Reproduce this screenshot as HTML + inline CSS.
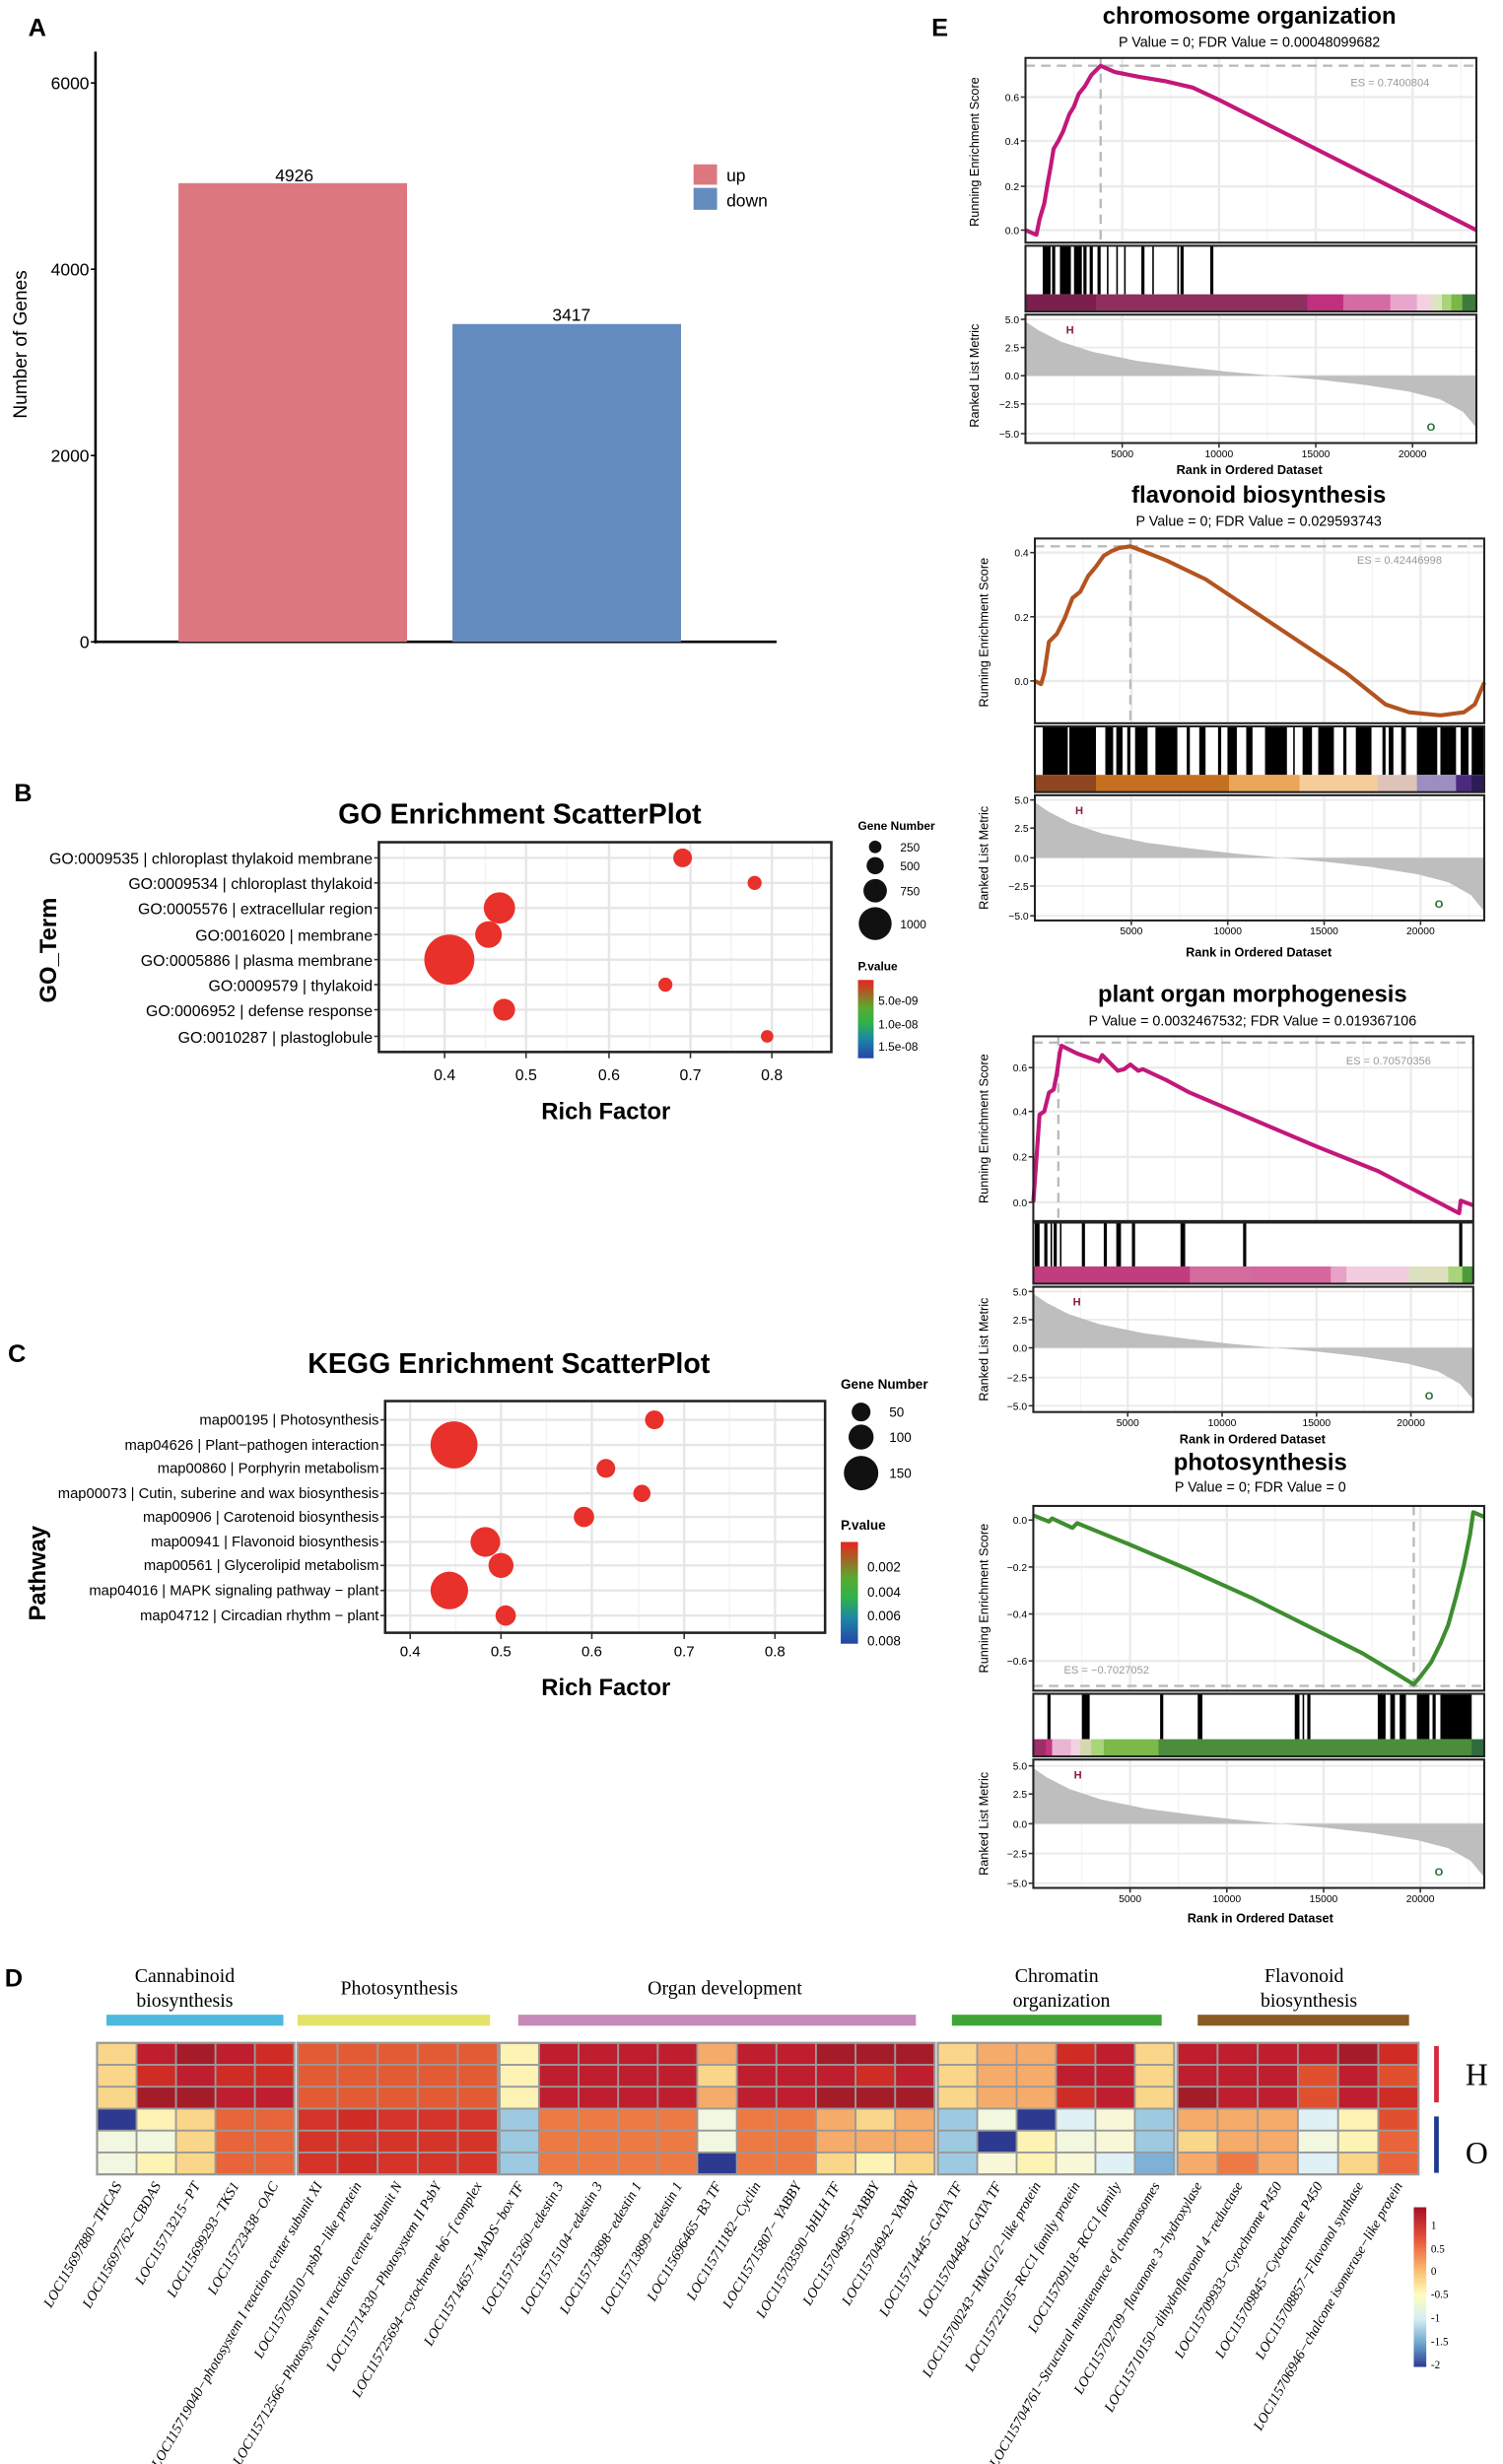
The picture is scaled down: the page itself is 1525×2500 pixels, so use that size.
<!DOCTYPE html>
<html><head><meta charset="utf-8"><style>
html,body{margin:0;padding:0;background:#fff}
svg{display:block}
.s{font-family:"Liberation Sans",sans-serif}
.t{font-family:"Liberation Serif",serif}
</style></head><body>
<svg id="sv" width="1525" height="2500" viewBox="0 0 960 1574" preserveAspectRatio="none" xmlns="http://www.w3.org/2000/svg">
<rect width="960" height="1574" fill="#fff"/>
<g class="s">
<!-- Panel A -->
<text x="18" y="23" font-size="16" font-weight="bold">A</text>
<line x1="61" y1="33" x2="61" y2="411" stroke="#000" stroke-width="1.6"/>
<line x1="60" y1="410" x2="496" y2="410" stroke="#000" stroke-width="1.6"/>
<g font-size="11" text-anchor="end">
<text x="57" y="57">6000</text><text x="57" y="176">4000</text><text x="57" y="295">2000</text><text x="57" y="414">0</text></g>
<g stroke="#000"><line x1="58" y1="53" x2="61" y2="53"/><line x1="58" y1="172" x2="61" y2="172"/><line x1="58" y1="291" x2="61" y2="291"/><line x1="58" y1="410" x2="61" y2="410"/></g>
<rect x="114" y="117" width="146" height="293" fill="#DC7780"/>
<rect x="289" y="207" width="146" height="203" fill="#648BBE"/>
<text x="188" y="116" font-size="11" text-anchor="middle">4926</text>
<text x="365" y="205" font-size="11" text-anchor="middle">3417</text>
<rect x="443" y="105" width="15" height="13" fill="#DC7780"/><rect x="443" y="120" width="15" height="14" fill="#648BBE"/>
<text x="464" y="116" font-size="11">up</text><text x="464" y="132" font-size="11">down</text>
<text transform="translate(17,220) rotate(-90)" font-size="12" text-anchor="middle">Number of Genes</text>

<!-- Panel B -->
<text x="9" y="512" font-size="16" font-weight="bold">B</text>
<text x="332" y="526" font-size="18" font-weight="bold" text-anchor="middle">GO Enrichment ScatterPlot</text>
<g id="gridB"></g>
<rect x="242" y="538" width="289" height="134" fill="none" stroke="#222" stroke-width="1.6"/>
<g font-size="10" text-anchor="end">
<text x="238" y="552">GO:0009535 | chloroplast thylakoid membrane</text>
<text x="238" y="568">GO:0009534 | chloroplast thylakoid</text>
<text x="238" y="584">GO:0005576 | extracellular region</text>
<text x="238" y="601">GO:0016020 | membrane</text>
<text x="238" y="617">GO:0005886 | plasma membrane</text>
<text x="238" y="633">GO:0009579 | thylakoid</text>
<text x="238" y="649">GO:0006952 | defense response</text>
<text x="238" y="666">GO:0010287 | plastoglobule</text>
</g>
<g font-size="10" text-anchor="middle"><text x="284" y="690">0.4</text><text x="336" y="690">0.5</text><text x="389" y="690">0.6</text><text x="441" y="690">0.7</text><text x="493" y="690">0.8</text></g>
<g fill="#E8312A"><circle cx="436" cy="548" r="6"/><circle cx="482" cy="564" r="4.5"/><circle cx="319" cy="580" r="10"/><circle cx="312" cy="597" r="8.5"/><circle cx="287" cy="613" r="16"/><circle cx="425" cy="629" r="4.5"/><circle cx="322" cy="645" r="7"/><circle cx="490" cy="662" r="4"/></g>
<text x="387" y="715" font-size="15" font-weight="bold" text-anchor="middle">Rich Factor</text>
<text transform="translate(36,607) rotate(-90)" font-size="15" font-weight="bold" text-anchor="middle">GO_Term</text>
<text x="548" y="530" font-size="7.5" font-weight="bold">Gene Number</text>
<g fill="#111"><circle cx="559" cy="541" r="4"/><circle cx="559" cy="553" r="5.5"/><circle cx="559" cy="569" r="7.5"/><circle cx="559" cy="590" r="10.5"/></g>
<g font-size="7.5"><text x="575" y="544">250</text><text x="575" y="556">500</text><text x="575" y="572">750</text><text x="575" y="593">1000</text></g>
<text x="548" y="620" font-size="7.5" font-weight="bold">P.value</text>
<defs><linearGradient id="pv" x1="0" y1="0" x2="0" y2="1"><stop offset="0" stop-color="#E8231F"/><stop offset="0.35" stop-color="#5AAA2E"/><stop offset="0.55" stop-color="#2FB24A"/><stop offset="0.75" stop-color="#1E86A6"/><stop offset="1" stop-color="#2444A8"/></linearGradient></defs>
<rect x="548" y="626" width="10" height="50" fill="url(#pv)"/>
<g font-size="7.5"><text x="561" y="642">5.0e-09</text><text x="561" y="657">1.0e-08</text><text x="561" y="671">1.5e-08</text></g>

<!-- Panel C -->
<text x="5" y="870" font-size="16" font-weight="bold">C</text>
<text x="325" y="877" font-size="18" font-weight="bold" text-anchor="middle">KEGG Enrichment ScatterPlot</text>
<g id="gridC"></g>
<rect x="246" y="895" width="281" height="148" fill="none" stroke="#222" stroke-width="1.6"/>
<g font-size="9.3" text-anchor="end">
<text x="242" y="910">map00195 | Photosynthesis</text>
<text x="242" y="926">map04626 | Plant−pathogen interaction</text>
<text x="242" y="941">map00860 | Porphyrin metabolism</text>
<text x="242" y="957">map00073 | Cutin, suberine and wax biosynthesis</text>
<text x="242" y="972">map00906 | Carotenoid biosynthesis</text>
<text x="242" y="988">map00941 | Flavonoid biosynthesis</text>
<text x="242" y="1003">map00561 | Glycerolipid metabolism</text>
<text x="242" y="1019">map04016 | MAPK signaling pathway − plant</text>
<text x="242" y="1035">map04712 | Circadian rhythm − plant</text>
</g>
<g font-size="9.5" text-anchor="middle"><text x="262" y="1058">0.4</text><text x="320" y="1058">0.5</text><text x="378" y="1058">0.6</text><text x="437" y="1058">0.7</text><text x="495" y="1058">0.8</text></g>
<g fill="#E8312A"><circle cx="418" cy="907" r="6"/><circle cx="290" cy="923" r="15"/><circle cx="387" cy="938" r="6"/><circle cx="410" cy="954" r="5.5"/><circle cx="373" cy="969" r="6.5"/><circle cx="310" cy="985" r="9.5"/><circle cx="320" cy="1000" r="8"/><circle cx="287" cy="1016" r="12"/><circle cx="323" cy="1032" r="6.5"/></g>
<text x="387" y="1083" font-size="15" font-weight="bold" text-anchor="middle">Rich Factor</text>
<text transform="translate(29,1005) rotate(-90)" font-size="15" font-weight="bold" text-anchor="middle">Pathway</text>
<text x="537" y="887" font-size="8.5" font-weight="bold">Gene Number</text>
<g fill="#111"><circle cx="550" cy="902" r="6"/><circle cx="550" cy="918" r="8"/><circle cx="550" cy="941" r="11"/></g>
<g font-size="8.5"><text x="568" y="905">50</text><text x="568" y="921">100</text><text x="568" y="944">150</text></g>
<text x="537" y="977" font-size="8.5" font-weight="bold">P.value</text>
<rect x="537" y="985" width="11" height="65" fill="url(#pv)"/>
<g font-size="8.5"><text x="554" y="1004">0.002</text><text x="554" y="1020">0.004</text><text x="554" y="1035">0.006</text><text x="554" y="1051">0.008</text></g>

<!-- Panel E -->
<text x="595" y="23" font-size="16" font-weight="bold">E</text>
<g id="gsea"></g>
<g text-anchor="middle">
<text x="798" y="15" font-size="15" font-weight="bold">chromosome organization</text>
<text x="798" y="30" font-size="9">P Value = 0; FDR Value = 0.00048099682</text>
<text x="798" y="303" font-size="8" font-weight="bold">Rank in Ordered Dataset</text>
<text x="804" y="321" font-size="15" font-weight="bold">flavonoid biosynthesis</text>
<text x="804" y="336" font-size="9">P Value = 0; FDR Value = 0.029593743</text>
<text x="804" y="611" font-size="8" font-weight="bold">Rank in Ordered Dataset</text>
<text x="800" y="640" font-size="15" font-weight="bold">plant organ morphogenesis</text>
<text x="800" y="655" font-size="9">P Value = 0.0032467532; FDR Value = 0.019367106</text>
<text x="800" y="922" font-size="8" font-weight="bold">Rank in Ordered Dataset</text>
<text x="805" y="939" font-size="15" font-weight="bold">photosynthesis</text>
<text x="805" y="953" font-size="9">P Value = 0; FDR Value = 0</text>
<text x="805" y="1228" font-size="8" font-weight="bold">Rank in Ordered Dataset</text>
</g>
<g font-size="8" text-anchor="middle">
<text transform="translate(625,97) rotate(-90)">Running Enrichment Score</text>
<text transform="translate(625,240) rotate(-90)">Ranked List Metric</text>
<text transform="translate(631,404) rotate(-90)">Running Enrichment Score</text>
<text transform="translate(631,548) rotate(-90)">Ranked List Metric</text>
<text transform="translate(631,721) rotate(-90)">Running Enrichment Score</text>
<text transform="translate(631,862) rotate(-90)">Ranked List Metric</text>
<text transform="translate(631,1021) rotate(-90)">Running Enrichment Score</text>
<text transform="translate(631,1165) rotate(-90)">Ranked List Metric</text>
</g>
<g font-size="7" fill="#999" text-anchor="end">
<text x="913" y="55">ES = 0.7400804</text>
<text x="921" y="360">ES = 0.42446998</text>
<text x="914" y="680">ES = 0.70570356</text>
<text x="734" y="1069">ES = −0.7027052</text>
</g>

<!-- Panel D -->
<text x="3" y="1269" font-size="16" font-weight="bold">D</text>
<g class="t" font-size="12.5" text-anchor="middle">
<text x="118" y="1266">Cannabinoid</text><text x="118" y="1282">biosynthesis</text>
<text x="255" y="1274">Photosynthesis</text>
<text x="463" y="1274">Organ development</text>
<text x="675" y="1266">Chromatin</text><text x="678" y="1282">organization</text>
<text x="833" y="1266">Flavonoid</text><text x="836" y="1282">biosynthesis</text>
</g>
<rect x="68" y="1287" width="113" height="7" fill="#4DB8E0"/>
<rect x="190" y="1287" width="123" height="7" fill="#E3E36A"/>
<rect x="331" y="1287" width="254" height="7" fill="#C58AB8"/>
<rect x="608" y="1287" width="134" height="7" fill="#3FA535"/>
<rect x="765" y="1287" width="135" height="7" fill="#8B5A22"/>
<g id="heat"></g>
<rect x="916" y="1307" width="3" height="36" fill="#D7263D"/>
<rect x="916" y="1352" width="3" height="36" fill="#1E3A8E"/>
<text class="t" x="936" y="1332" font-size="20">H</text>
<text class="t" x="936" y="1382" font-size="20">O</text>
<defs><linearGradient id="hm" x1="0" y1="0" x2="0" y2="1"><stop offset="0" stop-color="#A50F26"/><stop offset="0.2" stop-color="#E8543A"/><stop offset="0.4" stop-color="#FBBF6E"/><stop offset="0.55" stop-color="#FEFEC0"/><stop offset="0.7" stop-color="#D6EEF3"/><stop offset="0.85" stop-color="#6EA7D0"/><stop offset="1" stop-color="#2E3B94"/></linearGradient></defs>
<rect x="903" y="1410" width="8" height="102" fill="url(#hm)"/>
<g class="t" font-size="7"><text x="914" y="1424">1</text><text x="914" y="1439">0.5</text><text x="914" y="1453">0</text><text x="914" y="1468">-0.5</text><text x="914" y="1483">-1</text><text x="914" y="1498">-1.5</text><text x="914" y="1513">-2</text></g>
<g class="t" font-size="9" font-style="italic" text-anchor="end" id="lbl">
<text transform="translate(78,1396) rotate(-60)">LOC115697880−THCAS</text>
<text transform="translate(103,1396) rotate(-60)">LOC115697762−CBDAS</text>
<text transform="translate(128,1396) rotate(-60)">LOC115713215−PT</text>
<text transform="translate(153,1396) rotate(-60)">LOC115699293−TKS1</text>
<text transform="translate(178,1396) rotate(-60)">LOC115723438−OAC</text>
<text transform="translate(206,1396) rotate(-60)">LOC115719040−photosystem I reaction center subunit XI</text>
<text transform="translate(231,1396) rotate(-60)">LOC115705010−psbP−like protein</text>
<text transform="translate(257,1396) rotate(-60)">LOC115712566−Photosystem I reaction centre subunit N</text>
<text transform="translate(282,1396) rotate(-60)">LOC115714330−Photosystem II PsbY</text>
<text transform="translate(308,1396) rotate(-60)">LOC115725694−cytochrome b6−f complex</text>
<text transform="translate(335,1396) rotate(-60)">LOC115714657−MADS−box TF</text>
<text transform="translate(360,1396) rotate(-60)">LOC115715260−edestin 3</text>
<text transform="translate(385,1396) rotate(-60)">LOC115715104−edestin 3</text>
<text transform="translate(410,1396) rotate(-60)">LOC115713898−edestin 1</text>
<text transform="translate(436,1396) rotate(-60)">LOC115713899−edestin 1</text>
<text transform="translate(461,1396) rotate(-60)">LOC115696465−B3 TF</text>
<text transform="translate(486,1396) rotate(-60)">LOC115711182−Cyclin</text>
<text transform="translate(512,1396) rotate(-60)">LOC115715807− YABBY</text>
<text transform="translate(537,1396) rotate(-60)">LOC115703590−bHLH TF</text>
<text transform="translate(562,1396) rotate(-60)">LOC115704995−YABBY</text>
<text transform="translate(587,1396) rotate(-60)">LOC115704942−YABBY</text>
<text transform="translate(615,1396) rotate(-60)">LOC115714445−GATA TF</text>
<text transform="translate(640,1396) rotate(-60)">LOC115704484−GATA TF</text>
<text transform="translate(665,1396) rotate(-60)">LOC115700243−HMG1/2−like protein</text>
<text transform="translate(690,1396) rotate(-60)">LOC115722105−RCC1 family protein</text>
<text transform="translate(716,1396) rotate(-60)">LOC115709118−RCC1 family</text>
<text transform="translate(741,1396) rotate(-60)">LOC115704761−Structural maintenance of chromosomes</text>
<text transform="translate(768,1396) rotate(-60)">LOC115702709−flavanone 3−hydroxylase</text>
<text transform="translate(794,1396) rotate(-60)">LOC115710150−dihydroflavonol 4−reductase</text>
<text transform="translate(819,1396) rotate(-60)">LOC115709933−Cytochrome P450</text>
<text transform="translate(845,1396) rotate(-60)">LOC115709845−Cytochrome P450</text>
<text transform="translate(871,1396) rotate(-60)">LOC115708857−Flavonol synthase</text>
<text transform="translate(896,1396) rotate(-60)">LOC115706946−chalcone isomerase−like protein</text>
</g>
</g>
</svg>
<script>
var NS="http://www.w3.org/2000/svg";
function el(p,t,a){var e=document.createElementNS(NS,t);for(var k in a)e.setAttribute(k,a[k]);p.appendChild(e);return e;}
(function(){var g=document.getElementById('gridB');
el(g,'rect',{x:242,y:538,width:289,height:134,fill:'#fff'});
[284,336,389,441,493].forEach(function(x){el(g,'line',{x1:x,y1:538,x2:x,y2:672,stroke:'#e6e6e6','stroke-width':1.5});el(g,'line',{x1:x,y1:672,x2:x,y2:676,stroke:'#333'});});
[258,310,362,415,467,519].forEach(function(x){el(g,'line',{x1:x,y1:538,x2:x,y2:672,stroke:'#f2f2f2','stroke-width':0.8});});
[548,564,580,597,613,629,645,662].forEach(function(y){el(g,'line',{x1:242,y1:y,x2:531,y2:y,stroke:'#e6e6e6','stroke-width':1.5});el(g,'line',{x1:239,y1:y,x2:242,y2:y,stroke:'#333'});});
var c=document.getElementById('gridC');
el(c,'rect',{x:246,y:895,width:281,height:148,fill:'#fff'});
[262,320,378,437,495].forEach(function(x){el(c,'line',{x1:x,y1:895,x2:x,y2:1043,stroke:'#e6e6e6','stroke-width':1.5});el(c,'line',{x1:x,y1:1043,x2:x,y2:1047,stroke:'#333'});});
[291,349,408,466].forEach(function(x){el(c,'line',{x1:x,y1:895,x2:x,y2:1043,stroke:'#f2f2f2','stroke-width':0.8});});
[907,923,938,954,969,985,1000,1016,1032].forEach(function(y){el(c,'line',{x1:246,y1:y,x2:527,y2:y,stroke:'#e6e6e6','stroke-width':1.5});el(c,'line',{x1:243,y1:y,x2:246,y2:y,stroke:'#333'});});
})();
(function(){var G=document.getElementById('gsea');
function plot(o){
 var x0=o.x0,x1=o.x1,sc=(x1-x0)/23300;
 el(G,'rect',{x:x0,y:o.t0,width:x1-x0,height:o.t1-o.t0,fill:'#fff'});
 var ticks=[5000,10000,15000,20000];
 ticks.forEach(function(r){var x=x0+r*sc;[[o.t0,o.t1],[o.b0,o.b1]].forEach(function(p){el(G,'line',{x1:x,y1:p[0],x2:x,y2:p[1],stroke:'#ebebeb','stroke-width':1.5});});});
 [2500,7500,12500,17500,22500].forEach(function(r){var x=x0+r*sc;[[o.t0,o.t1],[o.b0,o.b1]].forEach(function(p){el(G,'line',{x1:x,y1:p[0],x2:x,y2:p[1],stroke:'#f4f4f4','stroke-width':0.8});});});
 o.yt.forEach(function(t){el(G,'line',{x1:x0,y1:t[1],x2:x1,y2:t[1],stroke:'#ebebeb','stroke-width':1.5});el(G,'line',{x1:x0-3,y1:t[1],x2:x0,y2:t[1],stroke:'#333'});var tx=el(G,'text',{x:x0-4,y:t[1]+2.5,'font-size':6.5,'text-anchor':'end'});tx.textContent=t[0];});
 el(G,'line',{x1:x0,y1:o.dh,x2:x1,y2:o.dh,stroke:'#bbb','stroke-width':1.5,'stroke-dasharray':'6,4'});
 el(G,'line',{x1:o.dv,y1:o.t0,x2:o.dv,y2:o.t1,stroke:'#bbb','stroke-width':1.5,'stroke-dasharray':'6,4'});
 el(G,'polyline',{points:o.pts,fill:'none',stroke:o.col,'stroke-width':2.6,'stroke-linejoin':'round'});
 el(G,'rect',{x:x0,y:o.t0,width:x1-x0,height:o.t1-o.t0,fill:'none',stroke:'#222','stroke-width':1.3});
 el(G,'rect',{x:x0,y:o.m0,width:x1-x0,height:o.m1-o.m0,fill:'#fff'});
 var cs=o.m1-11;
 o.bars.forEach(function(b){el(G,'rect',{x:b[0],y:o.m0,width:Math.max(b[1]-b[0],1),height:cs-o.m0,fill:'#000'});});
 o.strip.forEach(function(s){el(G,'rect',{x:s[0],y:cs,width:s[1]-s[0]+0.3,height:o.m1-cs,fill:s[2]});});
 el(G,'rect',{x:x0,y:o.m0,width:x1-x0,height:o.m1-o.m0,fill:'none',stroke:'#222','stroke-width':1.3});
 var yz=o.yb[2][1],u=(o.yb[0][1]-yz)/5;
 o.yb.forEach(function(t){el(G,'line',{x1:x0,y1:t[1],x2:x1,y2:t[1],stroke:'#ebebeb','stroke-width':1.2});el(G,'line',{x1:x0-3,y1:t[1],x2:x0,y2:t[1],stroke:'#333'});var tx=el(G,'text',{x:x0-4,y:t[1]+2.5,'font-size':6.5,'text-anchor':'end'});tx.textContent=t[0];});
 var prof=[[0,4.8],[0.03,4.0],[0.08,3.0],[0.15,2.1],[0.25,1.3],[0.35,0.8],[0.45,0.35],[0.55,0],[0.65,-0.35],[0.75,-0.8],[0.85,-1.4],[0.92,-2.1],[0.97,-3.2],[1,-4.6]];
 var d='M'+x0+','+yz;prof.forEach(function(p){d+=' L'+(x0+p[0]*(x1-x0))+','+(yz+p[1]*u);});d+=' L'+x1+','+yz+' Z';
 el(G,'path',{d:d,fill:'#BEBEBE'});
 var h=el(G,'text',{x:x0+(x1-x0)*0.09,y:o.b0+12,'font-size':7,'font-weight':'bold',fill:'#8B1A4A'});h.textContent='H';
 var oo=el(G,'text',{x:x0+(x1-x0)*0.89,y:o.b1-8,'font-size':7,'font-weight':'bold',fill:'#1E6B2A'});oo.textContent='O';
 el(G,'rect',{x:x0,y:o.b0,width:x1-x0,height:o.b1-o.b0,fill:'none',stroke:'#222','stroke-width':1.3});
 ticks.forEach(function(r){var x=x0+r*sc;el(G,'line',{x1:x,y1:o.b1,x2:x,y2:o.b1+3,stroke:'#333'});var tx=el(G,'text',{x:x,y:o.b1+9,'font-size':6.5,'text-anchor':'middle'});tx.textContent=r;});
}
plot({x0:655,x1:943,t0:37,t1:155,m0:157,m1:199,b0:201,b1:283,col:'#C2187A',dh:42,dv:703,
 yt:[['0.0',147],['0.2',119],['0.4',90],['0.6',62]],yb:[['5.0',204],['2.5',222],['0.0',240],['−2.5',258],['−5.0',277]],
 pts:'655,147 662,150 664,140 667,130 669,118 671,107 673,95 676,90 679,84 683,73 686,68 689,60 693,55 697,48 700,45 703,42 712,46 727,49 745,52 762,56 779,64 943,147',
 bars:[[666,671],[672,674],[677,684],[686,691],[692,694],[696,698],[701,703],[707,708],[713,714],[718,719],[729,731],[736,737],[752,753],[754,756],[773,775]],
 strip:[[655,700,'#7C1F4E'],[700,835,'#8E2F5E'],[835,858,'#C0307F'],[858,888,'#D56BA5'],[888,905,'#E8A6CC'],[905,914,'#F4D0E3'],[914,921,'#DDE5C0'],[921,927,'#A8D47A'],[927,934,'#7AB648'],[934,943,'#3E7A3C']]});
plot({x0:661,x1:948,t0:344,t1:462,m0:464,m1:506,b0:508,b1:588,col:'#B35420',dh:349,dv:722,
 yt:[['0.0',435],['0.2',394],['0.4',353]],yb:[['5.0',511],['2.5',529],['0.0',548],['−2.5',566],['−5.0',585]],
 pts:'661,435 665,437 667,430 670,410 675,405 680,395 685,382 690,378 695,368 700,362 705,355 710,352 715,350 722,349 730,352 745,358 770,370 800,390 830,410 860,430 885,450 900,455 920,457 935,455 942,450 948,436',
 bars:[[666,682],[683,700],[706,711],[713,717],[720,722],[725,733],[738,752],[758,760],[766,770],[778,780],[784,790],[796,800],[808,822],[826,827],[832,838],[842,852],[858,860],[866,876],[883,885],[887,890],[895,898],[905,918],[920,930],[933,938],[940,948]],
 strip:[[661,700,'#8E4620'],[700,785,'#C5701F'],[785,830,'#E9A55A'],[830,880,'#F6CD9A'],[880,905,'#DDC3B8'],[905,930,'#9B8FC2'],[930,940,'#4B2A7D'],[940,948,'#2D1B55']]});
plot({x0:660,x1:941,t0:662,t1:780,m0:781,m1:820,b0:822,b1:902,col:'#C2187A',dh:666,dv:676,
 yt:[['0.0',768],['0.2',739],['0.4',710],['0.6',682]],yb:[['5.0',825],['2.5',843],['0.0',861],['−2.5',880],['−5.0',898]],
 pts:'660,768 662,740 664,712 667,710 670,698 673,696 675,686 677,672 678,668 688,673 702,678 704,674 714,684 718,683 722,680 727,684 730,683 745,690 760,698 800,715 840,732 880,748 932,775 933,767 941,770',
 bars:[[661,664],[667,669],[671,672],[673,675],[677,678],[691,693],[705,707],[713,716],[723,725],[754,757],[794,796],[932,934]],
 strip:[[660,760,'#C13D7F'],[760,800,'#D36B9E'],[800,850,'#D6679E'],[850,860,'#E7A2C6'],[860,900,'#F2CCDF'],[900,925,'#DCE0BE'],[925,934,'#A8D47A'],[934,941,'#4F9A3C']]});
plot({x0:660,x1:948,t0:962,t1:1080,m0:1082,m1:1122,b0:1124,b1:1206,col:'#3E8E2F',dh:1077,dv:903,
 yt:[['0.0',971],['−0.2',1001],['−0.4',1031],['−0.6',1061]],yb:[['5.0',1128],['2.5',1146],['0.0',1165],['−2.5',1184],['−5.0',1203]],
 pts:'660,968 670,972 672,970 685,976 688,973 720,986 760,1003 800,1021 840,1041 870,1056 890,1068 903,1076 908,1070 914,1062 920,1050 925,1038 930,1020 935,1000 939,980 941,966 948,969',
 bars:[[669,671],[691,696],[741,743],[765,768],[827,830],[832,833],[835,837],[880,885],[888,891],[894,898],[905,913],[915,917],[920,940]],
 strip:[[660,668,'#9E2E66'],[668,672,'#C23680'],[672,684,'#E8B5D2'],[684,690,'#F4D0E3'],[690,697,'#D4D8B0'],[697,705,'#A8D47A'],[705,740,'#7CB84A'],[740,940,'#4C8C3C'],[940,948,'#2F6B3C']]});
})();
(function(){var H=document.getElementById('heat');
var C={R3:'#A51C29',R2:'#BE1E2D',R1:'#CF2C25',O2:'#E0502F',O:'#E8643A',O1:'#ED7A45',LO:'#F5AB6A',Y:'#FAD68A',PY:'#FCF3B5',W:'#F2F7E0',PW:'#F8F8D8',LB:'#DFF1F5',B1:'#9ECAE1',B:'#2D3A8F',MB:'#7FB1D6',PO:'#E35B35',PR:'#D4342A'};
var groups=[
 {x:62,w:126,rows:[['Y','R2','R3','R2','R1'],['Y','R1','R2','R1','R1'],['Y','R3','R3','R2','R2'],['B','PY','Y','O','O'],['W','W','Y','O','O'],['W','PY','Y','O','O']]},
 {x:190,w:128,rows:[['PO','PO','PO','PO','PO'],['PO','PO','PO','PO','PO'],['PO','PO','PO','PO','PO'],['PR','R1','PR','PR','PR'],['PR','PR','PR','PR','PR'],['PR','R1','PR','PR','PR']]},
 {x:319,w:278,rows:[['PY','R2','R2','R2','R2','LO','R2','R2','R3','R3','R3'],['PY','R2','R2','R2','R2','Y','R2','R2','R2','R1','R2'],['PY','R2','R2','R2','R2','LO','R2','R2','R3','R3','R3'],['B1','O1','O1','O1','O1','W','O1','O1','LO','Y','LO'],['B1','O1','O1','O1','O1','W','O1','O1','LO','LO','LO'],['B1','O1','O1','O1','O1','B','O1','O1','Y','PY','Y']]},
 {x:599,w:151,rows:[['Y','LO','LO','R1','R2','Y'],['Y','LO','LO','R2','R2','Y'],['Y','LO','LO','R1','R2','Y'],['B1','W','B','LB','PW','B1'],['B1','B','PY','W','PW','B1'],['B1','PW','PY','PW','LB','MB']]},
 {x:752,w:154,rows:[['R2','R2','R2','R2','R3','R1'],['R2','R2','R2','O2','R2','O2'],['R3','R2','R2','O2','R2','R1'],['LO','LO','LO','LB','PY','O2'],['Y','LO','LO','W','PY','O'],['LO','O1','LO','LB','Y','O']]}];
groups.forEach(function(g){var n=g.rows[0].length,cw=g.w/n,rh=84/6;
 el(H,'rect',{x:g.x,y:1305,width:g.w,height:84,fill:'#999'});
 g.rows.forEach(function(r,i){r.forEach(function(c,j){el(H,'rect',{x:g.x+j*cw+0.6,y:1305+i*rh+0.6,width:cw-1.2,height:rh-1.2,fill:C[c]});});});
 el(H,'rect',{x:g.x,y:1305,width:g.w,height:84,fill:'none',stroke:'#999','stroke-width':1.4});});
})();
</script>
</body></html>
